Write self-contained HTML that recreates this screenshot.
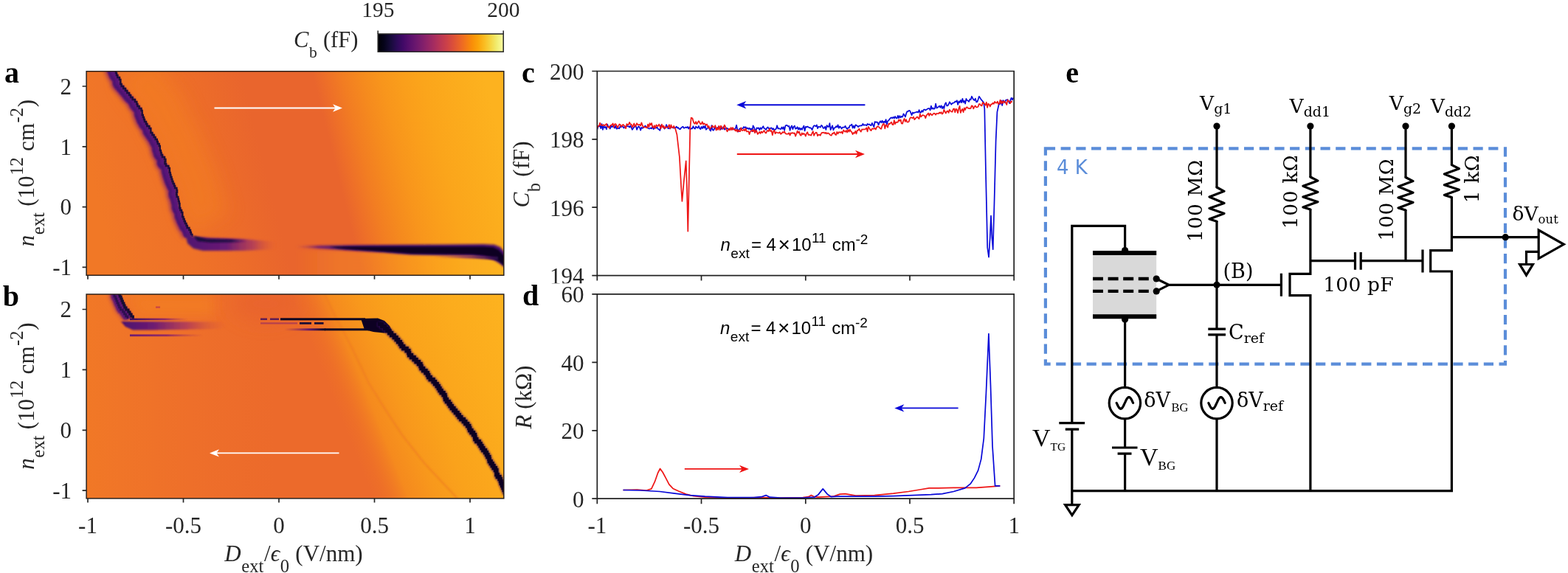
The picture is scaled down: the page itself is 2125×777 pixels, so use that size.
<!DOCTYPE html>
<html lang="en"><head><meta charset="utf-8"><title>Figure</title>
<style>
html,body{margin:0;padding:0;background:#fff;}
body{width:2125px;height:777px;overflow:hidden;}
svg{display:block;}
text{white-space:pre;}
</style></head>
<body>
<svg width="2125" height="777" viewBox="0 0 2125 777">
<defs>
<linearGradient id="cb" x1="0" x2="1" y1="0" y2="0"><stop offset="0.00" stop-color="#000003"/><stop offset="0.05" stop-color="#06041B"/><stop offset="0.10" stop-color="#160B39"/><stop offset="0.15" stop-color="#2B0A56"/><stop offset="0.20" stop-color="#410967"/><stop offset="0.25" stop-color="#570F6D"/><stop offset="0.30" stop-color="#6A176E"/><stop offset="0.35" stop-color="#7E1E6C"/><stop offset="0.40" stop-color="#932567"/><stop offset="0.45" stop-color="#A72D5F"/><stop offset="0.50" stop-color="#BB3754"/><stop offset="0.55" stop-color="#CC4148"/><stop offset="0.60" stop-color="#DC5039"/><stop offset="0.65" stop-color="#E9622A"/><stop offset="0.70" stop-color="#F37719"/><stop offset="0.75" stop-color="#F98E08"/><stop offset="0.80" stop-color="#FBA40A"/><stop offset="0.85" stop-color="#FABD23"/><stop offset="0.90" stop-color="#F5D745"/><stop offset="0.95" stop-color="#F1EE74"/><stop offset="1.00" stop-color="#FCFEA4"/></linearGradient>
<clipPath id="clipA"><rect x="117.1" y="96.7" width="565.6999999999999" height="276.6"/></clipPath>
<clipPath id="clipB"><rect x="117.1" y="399.0" width="565.6999999999999" height="276.9"/></clipPath>
<linearGradient id="gA" gradientUnits="userSpaceOnUse" x1="117" y1="210" x2="649.7" y2="76.8"><stop offset="0" stop-color="#F17826" stop-opacity="1"/><stop offset="0.07" stop-color="#F07528" stop-opacity="1"/><stop offset="0.2" stop-color="#EF7228" stop-opacity="1"/><stop offset="0.33" stop-color="#EC6B2A" stop-opacity="1"/><stop offset="0.42" stop-color="#E9652D" stop-opacity="1"/><stop offset="0.59" stop-color="#E9652D" stop-opacity="1"/><stop offset="0.62" stop-color="#EE6F28" stop-opacity="1"/><stop offset="0.66" stop-color="#F27D22" stop-opacity="1"/><stop offset="0.705" stop-color="#F58A1E" stop-opacity="1"/><stop offset="0.75" stop-color="#F8951C" stop-opacity="1"/><stop offset="0.8" stop-color="#FA9E1B" stop-opacity="1"/><stop offset="0.85" stop-color="#FBA51B" stop-opacity="1"/><stop offset="0.94" stop-color="#FCAD1D" stop-opacity="1"/><stop offset="1" stop-color="#FDB21F" stop-opacity="1"/></linearGradient>
<linearGradient id="gB" gradientUnits="userSpaceOnUse" x1="117.1" y1="0" x2="682.8" y2="0"><stop offset="0" stop-color="#F17826" stop-opacity="1"/><stop offset="0.08" stop-color="#F07528" stop-opacity="1"/><stop offset="0.25" stop-color="#EE6F2A" stop-opacity="1"/><stop offset="0.45" stop-color="#EC6A2B" stop-opacity="1"/><stop offset="1" stop-color="#EC6A2B" stop-opacity="1"/></linearGradient>
<linearGradient id="gBd" gradientUnits="userSpaceOnUse" x1="457.2" y1="554.2" x2="698.6" y2="457.6"><stop offset="0" stop-color="#F07524" stop-opacity="0"/><stop offset="0.05" stop-color="#F07524" stop-opacity="0.35"/><stop offset="0.173" stop-color="#F58A1E" stop-opacity="1"/><stop offset="0.31" stop-color="#F8981C" stop-opacity="1"/><stop offset="0.46" stop-color="#FAA21B" stop-opacity="1"/><stop offset="0.75" stop-color="#FCAC1D" stop-opacity="1"/><stop offset="1" stop-color="#FDB21F" stop-opacity="1"/></linearGradient>
<filter id="bl0_6" filterUnits="userSpaceOnUse" x="100" y="80" width="600" height="610"><feGaussianBlur stdDeviation="0.6"/></filter>
<filter id="bl1" filterUnits="userSpaceOnUse" x="100" y="80" width="600" height="610"><feGaussianBlur stdDeviation="1"/></filter>
<filter id="bl1_5" filterUnits="userSpaceOnUse" x="100" y="80" width="600" height="610"><feGaussianBlur stdDeviation="1.5"/></filter>
<filter id="bl2_5" filterUnits="userSpaceOnUse" x="100" y="80" width="600" height="610"><feGaussianBlur stdDeviation="2.5"/></filter>
<filter id="bl4" filterUnits="userSpaceOnUse" x="100" y="80" width="600" height="610"><feGaussianBlur stdDeviation="4"/></filter>
<filter id="bl8" filterUnits="userSpaceOnUse" x="100" y="80" width="600" height="610"><feGaussianBlur stdDeviation="8"/></filter>
<filter id="bl12" filterUnits="userSpaceOnUse" x="100" y="80" width="600" height="610"><feGaussianBlur stdDeviation="12"/></filter>
</defs>
<rect width="2125" height="777" fill="#fff"/>
<g clip-path="url(#clipA)">
<rect x="117.1" y="96.7" width="565.6999999999999" height="276.6" fill="url(#gA)"/>
<polyline points="187.5,93.0 188.9,96.0 198.5,117.0 211.0,130.5 222.7,146.0 230.4,167.2 243.0,186.5 249.7,205.8 261.3,230.0 270.0,255.0 275.5,280.6 286.0,300.0" fill="none" stroke="#F37E21" stroke-width="56" filter="url(#bl12)" opacity="0.6"/>
<polyline points="147.0,93.0 147.0,96.0 148.4,96.0 148.4,99.0 149.4,99.0 149.4,102.0 150.7,102.0 150.7,105.0 153.4,105.0 153.4,108.0 154.8,108.0 154.8,111.0 154.6,111.0 154.6,114.0 156.0,114.0 156.0,117.0 158.6,117.0 158.6,120.0 161.4,120.0 161.4,123.0 163.7,123.0 163.7,126.0 166.5,126.0 166.5,129.0 168.5,129.0 168.5,132.0 171.0,132.0 171.0,135.0 174.4,135.0 174.4,138.0 176.7,138.0 176.7,141.0 177.7,141.0 177.7,144.0 180.0,144.0 180.0,147.0 182.9,147.0 182.9,150.0 184.0,150.0 184.0,153.0 184.1,153.0 184.1,156.0 185.2,156.0 185.2,159.0 186.4,159.0 186.4,162.0 187.4,162.0 187.4,165.0 189.4,165.0 189.4,168.0 190.7,168.0 190.7,171.0 193.7,171.0 193.7,174.0 195.7,174.0 195.7,177.0 195.8,177.0 195.8,180.0 197.8,180.0 197.8,183.0 200.0,183.0 200.0,186.0 202.0,186.0 202.0,189.0 204.2,189.0 204.2,192.0 205.2,192.0 205.2,195.0 207.1,195.0 207.1,198.0 208.2,198.0 208.2,201.0 208.2,201.0 208.2,204.0 209.3,204.0 209.3,207.0 210.0,207.0 210.0,210.0 211.4,210.0 211.4,213.0 214.4,213.0 214.4,216.0 215.8,216.0 215.8,219.0 214.8,219.0 214.8,222.0 216.3,222.0 216.3,225.0 219.8,225.0 219.8,228.0 221.3,228.0 221.3,231.0 221.1,231.0 221.1,234.0 222.1,234.0 222.1,237.0 222.8,237.0 222.8,240.0 223.9,240.0 223.9,243.0 224.8,243.0 224.8,246.0 225.9,246.0 225.9,249.0 227.4,249.0 227.4,252.0 228.5,252.0 228.5,255.0 230.8,255.0 230.8,258.0 231.5,258.0 231.5,261.0 230.5,261.0 230.5,264.0 231.1,264.0 231.1,267.0 232.8,267.0 232.8,270.0 233.4,270.0 233.4,273.0 234.2,273.0 234.2,276.0 234.9,276.0 234.9,279.0 234.8,279.0 234.8,282.0 235.7,282.0 235.7,285.0 237.4,285.0 237.4,288.0 238.7,288.0 238.7,291.0 238.6,291.0 238.6,294.0 239.9,294.0 239.9,297.0 241.1,297.0 241.1,300.0 242.3,300.0 242.3,303.0 243.9,303.0 243.9,306.0 245.1,306.0 245.1,309.0 247.8,309.0 247.8,312.0 249.4,312.0 249.4,315.0 250.3,315.0 250.3,318.0 251.8,318.0 251.8,321.0" fill="none" stroke="#8E2A66" stroke-width="10" filter="url(#bl2_5)" opacity="0.85" stroke-linejoin="round"/>
<polyline points="150.0,93.0 150.0,96.0 151.4,96.0 151.4,99.0 152.4,99.0 152.4,102.0 153.7,102.0 153.7,105.0 156.4,105.0 156.4,108.0 157.8,108.0 157.8,111.0 157.6,111.0 157.6,114.0 159.0,114.0 159.0,117.0 161.6,117.0 161.6,120.0 164.4,120.0 164.4,123.0 166.7,123.0 166.7,126.0 169.5,126.0 169.5,129.0 171.5,129.0 171.5,132.0 174.0,132.0 174.0,135.0 177.4,135.0 177.4,138.0 179.7,138.0 179.7,141.0 180.7,141.0 180.7,144.0 183.0,144.0 183.0,147.0 185.9,147.0 185.9,150.0 187.0,150.0 187.0,153.0 187.1,153.0 187.1,156.0 188.2,156.0 188.2,159.0 189.4,159.0 189.4,162.0 190.4,162.0 190.4,165.0 192.4,165.0 192.4,168.0 193.7,168.0 193.7,171.0 196.7,171.0 196.7,174.0 198.7,174.0 198.7,177.0 198.8,177.0 198.8,180.0 200.8,180.0 200.8,183.0 203.0,183.0 203.0,186.0 205.0,186.0 205.0,189.0 207.2,189.0 207.2,192.0 208.2,192.0 208.2,195.0 210.1,195.0 210.1,198.0 211.2,198.0 211.2,201.0 211.2,201.0 211.2,204.0 212.3,204.0 212.3,207.0 213.0,207.0 213.0,210.0 214.4,210.0 214.4,213.0 217.4,213.0 217.4,216.0 218.8,216.0 218.8,219.0 217.8,219.0 217.8,222.0 219.3,222.0 219.3,225.0 222.8,225.0 222.8,228.0 224.3,228.0 224.3,231.0 224.1,231.0 224.1,234.0 225.1,234.0 225.1,237.0 225.8,237.0 225.8,240.0 226.9,240.0 226.9,243.0 227.8,243.0 227.8,246.0 228.9,246.0 228.9,249.0 230.4,249.0 230.4,252.0 231.5,252.0 231.5,255.0 233.8,255.0 233.8,258.0 234.5,258.0 234.5,261.0 233.5,261.0 233.5,264.0 234.1,264.0 234.1,267.0 235.8,267.0 235.8,270.0 236.4,270.0 236.4,273.0 237.2,273.0 237.2,276.0 237.9,276.0 237.9,279.0 237.8,279.0 237.8,282.0 238.7,282.0 238.7,285.0 240.4,285.0 240.4,288.0 241.7,288.0 241.7,291.0 241.6,291.0 241.6,294.0 242.9,294.0 242.9,297.0 244.1,297.0 244.1,300.0 245.3,300.0 245.3,303.0 246.9,303.0 246.9,306.0 248.1,306.0 248.1,309.0 250.8,309.0 250.8,312.0 252.4,312.0 252.4,315.0 253.3,315.0 253.3,318.0 254.8,318.0 254.8,321.0" fill="none" stroke="#5A1779" stroke-width="9" filter="url(#bl1)" stroke-linejoin="round"/>
<polyline points="146.5,93.0 146.5,96.0 147.9,96.0 147.9,99.0 148.9,99.0 148.9,102.0 150.2,102.0 150.2,105.0 152.9,105.0 152.9,108.0 154.3,108.0 154.3,111.0 154.1,111.0 154.1,114.0 155.5,114.0 155.5,117.0 158.1,117.0 158.1,120.0 160.9,120.0 160.9,123.0 163.2,123.0 163.2,126.0 166.0,126.0 166.0,129.0 168.0,129.0 168.0,132.0 170.5,132.0 170.5,135.0 173.9,135.0 173.9,138.0 176.2,138.0 176.2,141.0 177.2,141.0 177.2,144.0 179.5,144.0 179.5,147.0 182.4,147.0 182.4,150.0 183.5,150.0 183.5,153.0 183.6,153.0 183.6,156.0 184.7,156.0 184.7,159.0 185.9,159.0 185.9,162.0 186.9,162.0 186.9,165.0 188.9,165.0 188.9,168.0 190.2,168.0 190.2,171.0 193.2,171.0 193.2,174.0 195.2,174.0 195.2,177.0 195.3,177.0 195.3,180.0 197.3,180.0 197.3,183.0 199.5,183.0 199.5,186.0 201.5,186.0 201.5,189.0 203.7,189.0 203.7,192.0 204.7,192.0 204.7,195.0 206.6,195.0 206.6,198.0 207.7,198.0 207.7,201.0 207.7,201.0 207.7,204.0 208.8,204.0 208.8,207.0 209.5,207.0 209.5,210.0 210.9,210.0 210.9,213.0 213.9,213.0 213.9,216.0 215.3,216.0 215.3,219.0 214.3,219.0 214.3,222.0 215.8,222.0 215.8,225.0 219.3,225.0 219.3,228.0 220.8,228.0 220.8,231.0 220.6,231.0 220.6,234.0 221.6,234.0 221.6,237.0 222.3,237.0 222.3,240.0 223.4,240.0 223.4,243.0 224.3,243.0 224.3,246.0 225.4,246.0 225.4,249.0 226.9,249.0 226.9,252.0 228.0,252.0 228.0,255.0 230.3,255.0 230.3,258.0 231.0,258.0 231.0,261.0 230.0,261.0 230.0,264.0 230.6,264.0 230.6,267.0 232.3,267.0 232.3,270.0 232.9,270.0 232.9,273.0 233.7,273.0 233.7,276.0 234.4,276.0 234.4,279.0 234.3,279.0 234.3,282.0 235.2,282.0 235.2,285.0 236.9,285.0 236.9,288.0 238.2,288.0 238.2,291.0 238.1,291.0 238.1,294.0 239.4,294.0 239.4,297.0 240.6,297.0 240.6,300.0 241.8,300.0 241.8,303.0 243.4,303.0 243.4,306.0 244.6,306.0 244.6,309.0 247.3,309.0 247.3,312.0 248.9,312.0 248.9,315.0 249.8,315.0 249.8,318.0 251.3,318.0 251.3,321.0" fill="none" stroke="#3B0F66" stroke-width="2.2" filter="url(#bl1)" opacity="0.6"/>
<polyline points="155.6,93.0 155.6,96.0 157.0,96.0 157.0,99.0 158.0,99.0 158.0,102.0 159.3,102.0 159.3,105.0 162.0,105.0 162.0,108.0 163.4,108.0 163.4,111.0 163.2,111.0 163.2,114.0 164.6,114.0 164.6,117.0 167.2,117.0 167.2,120.0 170.0,120.0 170.0,123.0 172.3,123.0 172.3,126.0 175.1,126.0 175.1,129.0 177.1,129.0 177.1,132.0 179.6,132.0 179.6,135.0 183.0,135.0 183.0,138.0 185.3,138.0 185.3,141.0 186.3,141.0 186.3,144.0 188.6,144.0 188.6,147.0 191.5,147.0 191.5,150.0 192.6,150.0 192.6,153.0 192.7,153.0 192.7,156.0 193.8,156.0 193.8,159.0 195.0,159.0 195.0,162.0 196.0,162.0 196.0,165.0 198.0,165.0 198.0,168.0 199.3,168.0 199.3,171.0 202.3,171.0 202.3,174.0 204.3,174.0 204.3,177.0 204.4,177.0 204.4,180.0 206.4,180.0 206.4,183.0 208.6,183.0 208.6,186.0 210.6,186.0 210.6,189.0 212.8,189.0 212.8,192.0 213.8,192.0 213.8,195.0 215.7,195.0 215.7,198.0 216.8,198.0 216.8,201.0 216.8,201.0 216.8,204.0 217.9,204.0 217.9,207.0 218.6,207.0 218.6,210.0 220.0,210.0 220.0,213.0 223.0,213.0 223.0,216.0 224.4,216.0 224.4,219.0 223.4,219.0 223.4,222.0 224.9,222.0 224.9,225.0 228.4,225.0 228.4,228.0 229.9,228.0 229.9,231.0 229.7,231.0 229.7,234.0 230.7,234.0 230.7,237.0 231.4,237.0 231.4,240.0 232.5,240.0 232.5,243.0 233.4,243.0 233.4,246.0 234.5,246.0 234.5,249.0 236.0,249.0 236.0,252.0 237.1,252.0 237.1,255.0 239.4,255.0 239.4,258.0 240.1,258.0 240.1,261.0 239.1,261.0 239.1,264.0 239.7,264.0 239.7,267.0 241.4,267.0 241.4,270.0 242.0,270.0 242.0,273.0 242.8,273.0 242.8,276.0 243.5,276.0 243.5,279.0 243.4,279.0 243.4,282.0 244.3,282.0 244.3,285.0 246.0,285.0 246.0,288.0 247.3,288.0 247.3,291.0 247.2,291.0 247.2,294.0 248.5,294.0 248.5,297.0 249.7,297.0 249.7,300.0 250.9,300.0 250.9,303.0 252.5,303.0 252.5,306.0 253.7,306.0 253.7,309.0 256.4,309.0 256.4,312.0 258.0,312.0 258.0,315.0 258.9,315.0 258.9,318.0 260.4,318.0 260.4,321.0" fill="none" stroke="#1C0C3A" stroke-width="2.4" filter="url(#bl0_6)"/>
<linearGradient id="tailA" gradientUnits="userSpaceOnUse" x1="252" y1="0" x2="375" y2="0"><stop offset="0" stop-color="#4F1270"/><stop offset="0.45" stop-color="#6A1B74"/><stop offset="0.75" stop-color="#A83560" stop-opacity="0.75"/><stop offset="1" stop-color="#DD5539" stop-opacity="0"/></linearGradient>
<polygon points="251.0,316.0 262.0,320.5 285.0,322.5 330.0,324.0 375.0,328.0 375.0,338.0 330.0,340.0 275.0,340.0 262.0,337.0 254.0,330.0" fill="url(#tailA)" filter="url(#bl1_5)"/>
<linearGradient id="tailA2" gradientUnits="userSpaceOnUse" x1="262" y1="0" x2="335" y2="0"><stop offset="0" stop-color="#1B0B3B"/><stop offset="0.7" stop-color="#2A0C4A"/><stop offset="1" stop-color="#4F1270" stop-opacity="0"/></linearGradient>
<polygon points="262.0,320.0 280.0,324.0 335.0,325.0 335.0,328.5 285.0,329.0 268.0,327.0" fill="url(#tailA2)" filter="url(#bl1)"/>
<linearGradient id="lowA" gradientUnits="userSpaceOnUse" x1="400" y1="0" x2="683" y2="0"><stop offset="0" stop-color="#F8981C" stop-opacity="0"/><stop offset="0.2" stop-color="#F8981C" stop-opacity="0.3"/><stop offset="0.7" stop-color="#FDB422" stop-opacity="0.3"/><stop offset="1" stop-color="#FDB825" stop-opacity="0.5"/></linearGradient>
<rect x="400" y="340" width="290" height="40" fill="url(#lowA)" filter="url(#bl2_5)"/>
<linearGradient id="tailA3" gradientUnits="userSpaceOnUse" x1="400" y1="0" x2="470" y2="0"><stop offset="0" stop-color="#B03A5A" stop-opacity="0"/><stop offset="0.45" stop-color="#6E1C72" stop-opacity="0.9"/><stop offset="1" stop-color="#4A1070"/></linearGradient>
<polygon points="400.0,333.4 440.0,332.8 470.0,332.4 520.0,332.0 600.0,331.5 655.0,331.0 670.0,331.8 678.0,335.0 684.0,342.0 684.0,363.0 678.0,358.0 670.0,353.0 660.0,349.5 640.0,347.0 600.0,346.3 558.0,345.6 540.0,344.2 520.0,342.6 480.0,340.0 440.0,337.5 400.0,335.6" fill="url(#tailA3)" filter="url(#bl1_5)"/>
<polygon points="446.0,334.8 483.0,334.6 520.0,334.6 600.0,334.6 655.0,334.4 668.0,335.2 676.0,339.0 683.0,347.0 684.0,361.0 677.0,355.0 668.0,349.5 655.0,346.5 640.0,345.0 600.0,344.6 558.0,344.0 540.0,342.6 520.0,341.0 483.0,338.6 460.0,336.8" fill="#0C0622" filter="url(#bl1)"/>
<linearGradient id="tailA4" gradientUnits="userSpaceOnUse" x1="585" y1="0" x2="675" y2="0"><stop offset="0" stop-color="#C04050" stop-opacity="0"/><stop offset="0.5" stop-color="#7A1F6E" stop-opacity="0.75"/><stop offset="1" stop-color="#2A0C4A"/></linearGradient>
<polygon points="585.0,346.6 640.0,346.8 675.0,348.0 675.0,352.5 640.0,350.6 585.0,349.0" fill="url(#tailA4)" filter="url(#bl1)"/>
</g>
<g clip-path="url(#clipB)">
<rect x="117.1" y="399.0" width="565.6999999999999" height="276.9" fill="url(#gB)"/>
<ellipse cx="360" cy="412" rx="45" ry="24" fill="#E8622E" filter="url(#bl12)" opacity="0.7"/>
<rect x="117.1" y="399.0" width="565.6999999999999" height="276.9" fill="url(#gBd)"/>
<polygon points="172.0,399.0 290.0,399.0 290.0,429.0 190.0,429.0" fill="#F37E22" filter="url(#bl8)" opacity="0.8"/>
<polyline points="440.0,399.0 455.0,430.0 476.0,470.0 500.0,520.0 520.0,552.0 545.0,590.0 575.0,628.0 620.0,676.0" fill="none" stroke="#EE7A22" stroke-width="2.4" filter="url(#bl1)" opacity="0.6"/>
<polyline points="153.1,396.0 153.1,399.0 154.0,399.0 154.0,402.0 155.6,402.0 155.6,405.0 156.7,405.0 156.7,408.0 157.9,408.0 157.9,411.0 159.4,411.0 159.4,414.0 160.5,414.0 160.5,417.0 162.4,417.0 162.4,420.0 165.5,420.0 165.5,423.0 167.5,423.0 167.5,426.0 169.6,426.0 169.6,429.0 171.9,429.0 171.9,432.0" fill="none" stroke="#8E2A66" stroke-width="9" filter="url(#bl2_5)" opacity="0.8"/>
<polyline points="155.1,396.0 155.1,399.0 156.0,399.0 156.0,402.0 157.6,402.0 157.6,405.0 158.7,405.0 158.7,408.0 159.9,408.0 159.9,411.0 161.4,411.0 161.4,414.0 162.5,414.0 162.5,417.0 164.4,417.0 164.4,420.0 167.5,420.0 167.5,423.0 169.5,423.0 169.5,426.0 171.6,426.0 171.6,429.0 173.9,429.0 173.9,432.0" fill="none" stroke="#5A1673" stroke-width="9" filter="url(#bl1)"/>
<polyline points="161.5,396.0 161.5,399.0 162.4,399.0 162.4,402.0 164.0,402.0 164.0,405.0 165.1,405.0 165.1,408.0 166.3,408.0 166.3,411.0 167.8,411.0 167.8,414.0 168.9,414.0 168.9,417.0 170.8,417.0 170.8,420.0 173.9,420.0 173.9,423.0 175.9,423.0 175.9,426.0 178.0,426.0 178.0,429.0 180.3,429.0 180.3,432.0" fill="none" stroke="#160A32" stroke-width="3.2" filter="url(#bl0_6)"/>
<polyline points="154.1,396.0 154.1,399.0 155.0,399.0 155.0,402.0 156.6,402.0 156.6,405.0 157.7,405.0 157.7,408.0 158.9,408.0 158.9,411.0 160.4,411.0 160.4,414.0 161.5,414.0 161.5,417.0 163.4,417.0 163.4,420.0 166.5,420.0 166.5,423.0 168.5,423.0 168.5,426.0 170.6,426.0 170.6,429.0 172.9,429.0 172.9,432.0" fill="none" stroke="#25104a" stroke-width="2.6" filter="url(#bl0_6)" opacity="0.85"/>
<linearGradient id="fadeR" gradientUnits="userSpaceOnUse" x1="165" y1="0" x2="310" y2="0"><stop offset="0" stop-color="#4A1070"/><stop offset="0.3" stop-color="#6E1C72"/><stop offset="0.6" stop-color="#A83560" stop-opacity="0.8"/><stop offset="1" stop-color="#E05A35" stop-opacity="0"/></linearGradient>
<polygon points="164.0,436.0 300.0,436.5 310.0,441.0 300.0,446.0 205.0,447.5 180.0,447.5 170.0,443.0" fill="url(#fadeR)" filter="url(#bl1)"/>
<linearGradient id="fadeR2" gradientUnits="userSpaceOnUse" x1="176" y1="0" x2="275" y2="0"><stop offset="0" stop-color="#6E1C72"/><stop offset="0.5" stop-color="#8A2468" stop-opacity="0.9"/><stop offset="1" stop-color="#C04050" stop-opacity="0"/></linearGradient>
<rect x="176" y="453.4" width="100" height="2.8" fill="url(#fadeR2)" filter="url(#bl0_6)"/>
<linearGradient id="fadeR3" gradientUnits="userSpaceOnUse" x1="176" y1="0" x2="255" y2="0"><stop offset="0" stop-color="#3A0D60"/><stop offset="0.6" stop-color="#8A2468" stop-opacity="0.9"/><stop offset="1" stop-color="#C04050" stop-opacity="0"/></linearGradient>
<rect x="176" y="431.6" width="80" height="2.6" fill="url(#fadeR3)" filter="url(#bl0_6)"/>
<rect x="211" y="415.5" width="6" height="2.2" fill="#C94545" filter="url(#bl0_6)"/>
<linearGradient id="fadeL" gradientUnits="userSpaceOnUse" x1="352" y1="0" x2="375" y2="0"><stop offset="0" stop-color="#8A2468" stop-opacity="0"/><stop offset="1" stop-color="#0C0622"/></linearGradient>
<rect x="380" y="431.3" width="115" height="3" fill="#0C0622"/>
<linearGradient id="fadeL2" gradientUnits="userSpaceOnUse" x1="385" y1="0" x2="440" y2="0"><stop offset="0" stop-color="#8A2468" stop-opacity="0"/><stop offset="0.6" stop-color="#5A1570" stop-opacity="0.9"/><stop offset="1" stop-color="#0C0622"/></linearGradient>
<rect x="385" y="445.3" width="56" height="3" fill="url(#fadeL2)"/>
<rect x="440" y="445.3" width="60" height="3" fill="#0C0622"/>
<path d="M353 438.3h50" stroke="#8A2468" stroke-width="2.2" fill="none" opacity="0.55" filter="url(#bl0_6)"/>
<path d="M406 438.3h16M426 438.3h12.5" stroke="#1A0A36" stroke-width="2.8" fill="none" filter="url(#bl0_6)"/>
<path d="M353 432.8h9M366 432.8h12" stroke="#3A0D60" stroke-width="2.4" fill="none" opacity="0.8" filter="url(#bl0_6)"/>
<polygon points="489.0,432.0 512.0,431.5 521.0,435.0 528.0,442.0 532.0,450.0 520.0,451.5 506.0,450.0 494.0,447.0" fill="#0C0622" filter="url(#bl0_6)"/>
<polyline points="514.4,436.7 514.4,439.7 517.6,439.7 517.6,442.7 521.6,442.7 521.6,445.7 524.7,445.7 524.7,448.7 527.7,448.7 527.7,451.7 530.6,451.7 530.6,454.7 534.2,454.7 534.2,457.7 537.1,457.7 537.1,460.7 539.6,460.7 539.6,463.7 542.3,463.7 542.3,466.7 544.0,466.7 544.0,469.7 546.7,469.7 546.7,472.7 551.1,472.7 551.1,475.7 553.8,475.7 553.8,478.7 554.6,478.7 554.6,481.7 557.5,481.7 557.5,484.7 561.1,484.7 561.1,487.7 564.0,487.7 564.0,490.7 567.4,490.7 567.4,493.7 570.0,493.7 570.0,496.7 571.0,496.7 571.0,499.7 573.6,499.7 573.6,502.7 576.9,502.7 576.9,505.7 579.4,505.7 579.4,508.7 580.7,508.7 580.7,511.7 583.2,511.7 583.2,514.7 587.1,514.7 587.1,517.7 589.5,517.7 589.5,520.7 592.2,520.7 592.2,523.7 594.3,523.7 594.3,526.7 596.0,526.7 596.0,529.7 598.1,529.7 598.1,532.7 601.0,532.7 601.0,535.7 603.0,535.7 603.0,538.7 603.5,538.7 603.5,541.7 605.4,541.7 605.4,544.7 608.2,544.7 608.2,547.7 610.1,547.7 610.1,550.7 612.3,550.7 612.3,553.7 614.9,553.7 614.9,556.7 617.4,556.7 617.4,559.7 620.1,559.7 620.1,562.7 622.3,562.7 622.3,565.7 624.8,565.7 624.8,568.7 628.3,568.7 628.3,571.7 630.8,571.7 630.8,574.7 633.6,574.7 633.6,577.7 635.7,577.7 635.7,580.7 636.7,580.7 636.7,583.7 638.9,583.7 638.9,586.7 641.5,586.7 641.5,589.7 643.5,589.7 643.5,592.7 643.9,592.7 643.9,595.7 645.8,595.7 645.8,598.7 649.2,598.7 649.2,601.7 651.1,601.7 651.1,604.7 652.9,604.7 652.9,607.7 654.8,607.7 654.8,610.7 657.5,610.7 657.5,613.7 659.4,613.7 659.4,616.7 660.9,616.7 660.9,619.7 662.8,619.7 662.8,622.7 663.3,622.7 663.3,625.7 665.2,625.7 665.2,628.7 667.2,628.7 667.2,631.7 669.1,631.7 669.1,634.7 671.4,634.7 671.4,637.7 672.9,637.7 672.9,640.7 672.8,640.7 672.8,643.7 674.3,643.7 674.3,646.7 676.9,646.7 676.9,649.7 678.4,649.7 678.4,652.7 679.2,652.7 679.2,655.7 680.6,655.7 680.6,658.7 681.9,658.7 681.9,661.7 683.2,661.7 683.2,664.7 684.4,664.7 684.4,667.7 685.8,667.7 685.8,670.7" fill="none" stroke="#3A0D60" stroke-width="7" filter="url(#bl1)" opacity="0.7"/>
<polyline points="514.4,436.7 514.4,439.7 517.6,439.7 517.6,442.7 521.6,442.7 521.6,445.7 524.7,445.7 524.7,448.7 527.7,448.7 527.7,451.7 530.6,451.7 530.6,454.7 534.2,454.7 534.2,457.7 537.1,457.7 537.1,460.7 539.6,460.7 539.6,463.7 542.3,463.7 542.3,466.7 544.0,466.7 544.0,469.7 546.7,469.7 546.7,472.7 551.1,472.7 551.1,475.7 553.8,475.7 553.8,478.7 554.6,478.7 554.6,481.7 557.5,481.7 557.5,484.7 561.1,484.7 561.1,487.7 564.0,487.7 564.0,490.7 567.4,490.7 567.4,493.7 570.0,493.7 570.0,496.7 571.0,496.7 571.0,499.7 573.6,499.7 573.6,502.7 576.9,502.7 576.9,505.7 579.4,505.7 579.4,508.7 580.7,508.7 580.7,511.7 583.2,511.7 583.2,514.7 587.1,514.7 587.1,517.7 589.5,517.7 589.5,520.7 592.2,520.7 592.2,523.7 594.3,523.7 594.3,526.7 596.0,526.7 596.0,529.7 598.1,529.7 598.1,532.7 601.0,532.7 601.0,535.7 603.0,535.7 603.0,538.7 603.5,538.7 603.5,541.7 605.4,541.7 605.4,544.7 608.2,544.7 608.2,547.7 610.1,547.7 610.1,550.7 612.3,550.7 612.3,553.7 614.9,553.7 614.9,556.7 617.4,556.7 617.4,559.7 620.1,559.7 620.1,562.7 622.3,562.7 622.3,565.7 624.8,565.7 624.8,568.7 628.3,568.7 628.3,571.7 630.8,571.7 630.8,574.7 633.6,574.7 633.6,577.7 635.7,577.7 635.7,580.7 636.7,580.7 636.7,583.7 638.9,583.7 638.9,586.7 641.5,586.7 641.5,589.7 643.5,589.7 643.5,592.7 643.9,592.7 643.9,595.7 645.8,595.7 645.8,598.7 649.2,598.7 649.2,601.7 651.1,601.7 651.1,604.7 652.9,604.7 652.9,607.7 654.8,607.7 654.8,610.7 657.5,610.7 657.5,613.7 659.4,613.7 659.4,616.7 660.9,616.7 660.9,619.7 662.8,619.7 662.8,622.7 663.3,622.7 663.3,625.7 665.2,625.7 665.2,628.7 667.2,628.7 667.2,631.7 669.1,631.7 669.1,634.7 671.4,634.7 671.4,637.7 672.9,637.7 672.9,640.7 672.8,640.7 672.8,643.7 674.3,643.7 674.3,646.7 676.9,646.7 676.9,649.7 678.4,649.7 678.4,652.7 679.2,652.7 679.2,655.7 680.6,655.7 680.6,658.7 681.9,658.7 681.9,661.7 683.2,661.7 683.2,664.7 684.4,664.7 684.4,667.7 685.8,667.7 685.8,670.7" fill="none" stroke="#0C0622" stroke-width="5.2" filter="url(#bl0_6)"/>
</g>
<path d="M290.5 146.5H456.2" stroke="#fff" stroke-width="1.9" fill="none"/>
<path d="M464 146.5L451 141.3L454.64 146.5L451 151.7Z" fill="#fff"/>
<path d="M459.5 614.4H291.8" stroke="#fff" stroke-width="1.9" fill="none"/>
<path d="M284 614.4L297 609.1999999999999L293.36 614.4L297 619.6Z" fill="#fff"/>
<rect x="117.1" y="96.7" width="565.6999999999999" height="276.6" fill="none" stroke="#241c18" stroke-width="1.45"/>
<rect x="117.1" y="399.0" width="565.6999999999999" height="276.9" fill="none" stroke="#241c18" stroke-width="1.45"/>
<path d="M119 373.3v5.5M119 675.9v5.5M248.5 373.3v5.5M248.5 675.9v5.5M378 373.3v5.5M378 675.9v5.5M507.5 373.3v5.5M507.5 675.9v5.5M637 373.3v5.5M637 675.9v5.5M117.1 117h-5.5M117.1 198.8h-5.5M117.1 280.6h-5.5M117.1 362.4h-5.5M117.1 419.5h-5.5M117.1 501.4h-5.5M117.1 583.3h-5.5M117.1 665.2h-5.5" stroke="#262626" stroke-width="1.7" fill="none"/>
<g font-family='"Liberation Serif", "DejaVu Serif", serif' font-size="31" fill="#262626">
<text x="119" y="723.4" text-anchor="middle">-1</text>
<text x="248.5" y="723.4" text-anchor="middle">-0.5</text>
<text x="378" y="723.4" text-anchor="middle">0</text>
<text x="507.5" y="723.4" text-anchor="middle">0.5</text>
<text x="637" y="723.4" text-anchor="middle">1</text>
<text x="97" y="127.8" text-anchor="end">2</text>
<text x="97" y="209.6" text-anchor="end">1</text>
<text x="97" y="291.4" text-anchor="end">0</text>
<text x="97" y="373.2" text-anchor="end">-1</text>
<text x="97" y="430.3" text-anchor="end">2</text>
<text x="97" y="512.2" text-anchor="end">1</text>
<text x="97" y="594.1" text-anchor="end">0</text>
<text x="97" y="676.0" text-anchor="end">-1</text>
<text x="512.3" y="23.4" text-anchor="middle" font-size="29.4">195</text>
<text x="682.3" y="23.4" text-anchor="middle" font-size="29.4">200</text>
<text x="398" y="63.5"><tspan font-style="italic" font-size="30.5">C</tspan><tspan dy="14.6" dx="0.6" font-size="21.5">b</tspan><tspan dy="-14.6" dx="0.6" font-size="30.5"> (fF)</tspan></text>
<text x="398" y="761.3" text-anchor="middle"><tspan font-style="italic" font-size="31">D</tspan><tspan dy="14.3" dx="0.6" font-size="24.6">ext</tspan><tspan dy="-14.3" dx="0.6" font-size="31">/</tspan><tspan font-style="italic" font-size="31">ϵ</tspan><tspan dy="14.3" dx="0.6" font-size="24.6">0</tspan><tspan dy="-14.3" dx="0.6" font-size="31"> (V/nm)</tspan></text>
<text transform="translate(45.6 234.6) rotate(-90)" text-anchor="middle"><tspan font-style="italic" font-size="31">n</tspan><tspan dy="14.3" dx="0.6" font-size="24.6">ext</tspan><tspan dy="-14.3" dx="0.6" font-size="31"> (10</tspan><tspan dy="-15" dx="0.6" font-size="24.6">12</tspan><tspan dy="15" dx="0.6" font-size="31"> cm</tspan><tspan dy="-15" dx="0.6" font-size="24.6">-2</tspan><tspan dy="15" dx="0.6" font-size="31">)</tspan></text>
<text transform="translate(45.6 537.1) rotate(-90)" text-anchor="middle"><tspan font-style="italic" font-size="31">n</tspan><tspan dy="14.3" dx="0.6" font-size="24.6">ext</tspan><tspan dy="-14.3" dx="0.6" font-size="31"> (10</tspan><tspan dy="-15" dx="0.6" font-size="24.6">12</tspan><tspan dy="15" dx="0.6" font-size="31"> cm</tspan><tspan dy="-15" dx="0.6" font-size="24.6">-2</tspan><tspan dy="15" dx="0.6" font-size="31">)</tspan></text>
</g>
<g font-family='"Liberation Serif", "DejaVu Serif", serif' font-size="40" font-weight="bold" fill="#000">
<text x="6" y="111.5">a</text>
<text x="3.8" y="415.3">b</text>
<text x="707" y="111.5">c</text>
<text x="708" y="414">d</text>
<text x="1444.3" y="112.2">e</text>
</g>
<rect x="512.2" y="46" width="170" height="24.2" fill="url(#cb)" stroke="#262626" stroke-width="1.5"/>
<path d="M512.2 46v-4.6M682.2 46v-4.6" stroke="#262626" stroke-width="1.5"/>
<clipPath id="clipC"><rect x="809.3" y="96.5" width="564.9000000000001" height="277.1"/></clipPath>
<g clip-path="url(#clipC)">
<path d="M809.4 175.5L810.6 171.3L811.9 171.4L813.1 170.4L814.4 174.1L815.6 168.1L816.9 175.8L818.1 171.0L819.4 173.1L820.6 172.0L821.9 175.3L823.1 168.6L824.4 171.9L825.6 171.8L826.9 174.6L828.1 170.4L829.4 172.2L830.6 170.8L831.9 172.6L833.1 173.6L834.4 170.4L835.6 174.7L836.9 174.2L838.1 173.5L839.4 174.3L840.6 171.2L841.9 172.3L843.1 170.8L844.4 172.1L845.6 173.6L846.9 171.3L848.1 171.8L849.4 171.3L850.6 171.0L851.9 171.3L853.1 172.6L854.4 170.5L855.6 173.1L856.9 175.8L858.1 174.0L859.4 172.3L860.6 170.9L861.9 171.2L863.1 175.9L864.4 172.7L865.6 171.4L866.9 173.0L868.1 176.6L869.4 172.9L870.6 173.8L871.9 173.2L873.1 172.0L874.4 170.5L875.6 172.0L876.9 172.3L878.1 173.8L879.4 174.3L880.6 174.5L881.9 173.3L883.1 174.4L884.4 171.3L885.6 175.1L886.9 173.7L888.1 172.2L889.4 173.7L890.6 172.6L891.9 174.9L893.1 175.6L894.4 176.9L895.6 170.1L896.9 170.0L898.1 171.8L899.4 173.1L900.6 174.5L901.9 173.4L903.1 169.0L904.4 172.2L905.6 174.4L906.9 173.3L908.1 174.3L909.4 172.4L910.6 172.4L911.9 173.2L913.1 173.6L914.4 173.2L915.6 173.1L916.9 171.6L918.1 173.6L919.4 173.1L920.6 175.0L921.9 175.2L923.1 173.3L924.4 172.3L925.6 171.8L926.9 173.8L928.1 173.2L929.4 172.4L930.6 173.2L931.9 171.9L933.1 174.5L934.4 172.3L935.6 175.5L936.9 174.0L938.1 174.4L939.4 171.2L940.6 173.6L941.9 174.7L943.1 171.5L944.4 172.9L945.6 173.5L946.9 170.8L948.1 174.0L949.4 175.1L950.6 171.9L951.9 174.2L953.1 171.1L954.4 173.5L955.6 170.5L956.9 175.8L958.1 174.4L959.4 173.6L960.6 172.2L961.9 176.1L963.1 177.5L964.4 170.2L965.6 176.1L966.9 176.9L968.1 174.5L969.4 171.6L970.6 175.5L971.9 173.5L973.1 172.8L974.4 171.6L975.6 175.0L976.9 175.5L978.1 172.8L979.4 175.0L980.6 171.8L981.9 175.6L983.1 174.2L984.4 173.7L985.6 173.9L986.9 175.8L988.1 175.6L989.4 175.2L990.6 174.4L991.9 174.3L993.1 175.4L994.4 174.7L995.6 175.6L996.9 173.7L998.1 169.7L999.4 176.3L1000.6 178.5L1001.9 175.1L1003.1 174.1L1004.4 174.0L1005.6 174.0L1006.9 174.2L1008.1 172.0L1009.4 173.2L1010.6 172.2L1011.9 174.6L1013.1 173.5L1014.4 175.0L1015.6 173.7L1016.9 175.9L1018.1 174.4L1019.4 178.1L1020.6 170.3L1021.9 172.7L1023.1 175.6L1024.4 178.6L1025.6 173.3L1026.9 173.9L1028.1 173.3L1029.4 176.3L1030.6 173.2L1031.9 175.0L1033.1 173.1L1034.4 171.2L1035.6 174.2L1036.9 174.5L1038.1 176.0L1039.4 173.3L1040.6 172.3L1041.9 174.6L1043.1 173.9L1044.4 174.0L1045.6 173.3L1046.9 175.6L1048.1 174.1L1049.4 177.0L1050.6 175.5L1051.9 174.6L1053.1 170.2L1054.4 174.5L1055.6 174.1L1056.9 174.8L1058.1 175.2L1059.4 172.5L1060.6 174.8L1061.9 172.2L1063.1 176.9L1064.4 170.7L1065.6 169.8L1066.9 170.0L1068.1 171.5L1069.4 171.0L1070.6 176.8L1071.9 172.5L1073.1 170.5L1074.4 175.2L1075.6 171.9L1076.9 170.7L1078.1 174.7L1079.4 174.2L1080.6 172.2L1081.9 175.7L1083.1 173.2L1084.4 176.0L1085.6 173.9L1086.9 175.9L1088.1 173.1L1089.4 170.6L1090.6 177.5L1091.9 171.8L1093.1 172.5L1094.4 171.5L1095.6 172.4L1096.9 173.3L1098.1 173.2L1099.4 174.0L1100.6 176.1L1101.9 172.5L1103.1 170.4L1104.4 170.4L1105.6 171.4L1106.9 169.5L1108.1 174.2L1109.4 171.7L1110.6 172.0L1111.9 172.6L1113.1 169.9L1114.4 170.9L1115.6 173.8L1116.9 173.7L1118.1 171.7L1119.4 175.9L1120.6 170.0L1121.9 171.8L1123.1 172.0L1124.4 167.1L1125.6 176.1L1126.9 173.1L1128.1 170.4L1129.4 176.3L1130.6 173.5L1131.9 173.1L1133.1 171.2L1134.4 172.5L1135.6 169.4L1136.9 173.8L1138.1 171.5L1139.4 172.5L1140.6 174.5L1141.9 172.7L1143.1 172.7L1144.4 172.7L1145.6 170.8L1146.9 173.7L1148.1 174.9L1149.4 173.3L1150.6 173.4L1151.9 170.0L1153.1 169.8L1154.4 168.6L1155.6 173.6L1156.9 170.6L1158.1 173.7L1159.4 169.4L1160.6 169.9L1161.9 170.8L1163.1 172.2L1164.4 170.5L1165.6 170.6L1166.9 170.2L1168.1 170.3L1169.4 167.8L1170.6 169.9L1171.9 169.3L1173.1 169.4L1174.4 170.3L1175.6 168.0L1176.9 169.0L1178.1 168.4L1179.4 169.7L1180.6 170.2L1181.9 166.8L1183.1 169.6L1184.4 172.1L1185.6 165.0L1186.9 165.9L1188.1 165.4L1189.4 166.1L1190.6 169.4L1191.9 165.9L1193.1 164.2L1194.4 166.3L1195.6 163.6L1196.9 166.5L1198.1 164.6L1199.4 166.3L1200.6 162.0L1201.9 168.6L1203.1 164.1L1204.4 163.3L1205.6 161.6L1206.9 160.0L1208.1 159.3L1209.4 160.3L1210.6 158.7L1211.9 160.4L1213.1 157.9L1214.4 160.2L1215.6 160.5L1216.9 156.9L1218.1 160.2L1219.4 157.1L1220.6 159.4L1221.9 157.7L1223.1 158.7L1224.4 154.4L1225.6 155.8L1226.9 158.5L1228.1 154.2L1229.4 151.2L1230.6 151.1L1231.9 149.8L1233.1 150.2L1234.4 153.2L1235.6 156.1L1236.9 152.5L1238.1 153.7L1239.4 152.6L1240.6 152.5L1241.9 151.9L1243.1 151.6L1244.4 152.5L1245.6 149.1L1246.9 152.9L1248.1 152.5L1249.4 150.0L1250.6 151.7L1251.9 148.5L1253.1 148.5L1254.4 149.5L1255.6 148.6L1256.9 147.8L1258.1 147.1L1259.4 147.0L1260.6 149.5L1261.9 143.7L1263.1 147.8L1264.4 146.3L1265.6 147.9L1266.9 147.1L1268.1 140.6L1269.4 146.6L1270.6 145.8L1271.9 144.9L1273.1 143.7L1274.4 145.9L1275.6 143.2L1276.9 147.1L1278.1 144.4L1279.4 147.1L1280.6 141.2L1281.9 139.1L1283.1 143.5L1284.4 143.4L1285.6 141.5L1286.9 138.2L1288.1 140.0L1289.4 141.7L1290.6 139.9L1291.9 139.7L1293.1 139.3L1294.4 137.5L1295.6 138.1L1296.9 136.1L1298.1 141.9L1299.4 137.4L1300.6 139.0L1301.9 135.9L1303.1 139.1L1304.4 133.8L1305.6 138.8L1306.9 136.7L1308.1 140.6L1309.4 133.8L1310.6 136.2L1311.9 136.5L1313.1 137.9L1314.4 134.5L1315.6 135.2L1316.9 130.7L1318.1 133.0L1319.4 135.2L1320.6 136.2L1321.9 133.6L1323.1 138.4L1324.4 138.1L1325.6 135.0L1326.9 130.8L1328.1 132.4L1329.4 134.6L1333.0 138.7L1334.3 147.5L1336.0 235.0L1338.2 335.6L1340.0 348.7L1341.7 322.5L1343.0 292.7L1344.4 322.5L1345.7 338.2L1347.4 278.7L1349.6 191.2L1351.4 151.9L1353.5 142.2L1354.4 140.6L1355.7 140.8L1356.9 136.3L1358.2 143.0L1359.4 136.0L1360.7 137.3L1361.9 139.3L1363.2 135.5L1364.4 135.4L1365.7 135.1L1366.9 137.4L1368.2 140.2L1369.4 135.4L1370.7 132.7L1371.9 135.4L1373.2 132.7" fill="none" stroke="#0808D8" stroke-width="1.7" stroke-linejoin="round" />
<path d="M809.4 173.6L810.6 171.1L811.9 170.4L813.1 166.7L814.4 169.7L815.6 169.6L816.9 170.1L818.1 169.1L819.4 170.2L820.6 169.4L821.9 167.8L823.1 172.0L824.4 172.0L825.6 173.6L826.9 170.4L828.1 169.6L829.4 169.3L830.6 167.4L831.9 172.2L833.1 168.3L834.4 168.1L835.6 170.0L836.9 173.2L838.1 170.8L839.4 168.4L840.6 169.0L841.9 171.6L843.1 170.1L844.4 169.0L845.6 170.0L846.9 171.8L848.1 174.2L849.4 168.1L850.6 169.3L851.9 168.9L853.1 165.9L854.4 168.7L855.6 168.5L856.9 172.6L858.1 170.2L859.4 167.4L860.6 171.7L861.9 169.8L863.1 167.2L864.4 169.4L865.6 169.4L866.9 168.9L868.1 170.6L869.4 166.3L870.6 170.0L871.9 172.5L873.1 172.2L874.4 172.7L875.6 172.7L876.9 173.4L878.1 168.5L879.4 172.2L880.6 167.1L881.9 169.5L883.1 167.0L884.4 172.6L885.6 173.2L886.9 170.2L888.1 174.0L889.4 169.4L890.6 170.9L891.9 170.9L893.1 168.6L894.4 171.5L895.6 174.4L896.9 168.7L898.1 172.5L899.4 170.6L900.6 174.4L901.9 172.1L903.1 172.6L904.4 172.7L905.6 172.1L906.9 169.1L908.1 174.5L909.4 169.4L910.6 172.6L911.9 173.4L913.1 170.8L915.2 174.6L917.4 182.5L920.9 213.1L923.1 252.5L924.4 273.0L926.6 248.1L929.7 218.4L931.0 256.9L932.3 313.7L934.0 235.0L935.3 173.7L936.7 159.7L938.4 160.2L939.7 165.0L940.6 166.8L941.8 167.8L943.1 165.0L944.3 168.3L945.6 166.2L946.8 164.1L948.1 165.9L949.3 168.4L950.6 167.9L951.8 165.2L953.1 168.6L954.3 167.4L955.6 168.4L956.8 169.6L958.1 168.5L959.3 172.7L960.6 170.9L961.8 175.0L963.1 173.5L964.3 172.3L965.6 170.4L966.8 172.4L968.1 172.6L969.3 170.1L970.6 176.6L971.8 173.3L973.1 175.9L974.3 170.8L975.6 176.2L976.8 170.6L978.1 172.2L979.3 174.6L980.6 173.9L981.8 169.5L983.1 172.0L984.3 175.9L985.6 178.4L986.8 176.4L988.1 174.3L989.3 176.5L990.6 173.0L991.8 176.3L993.1 173.0L994.3 175.7L995.6 175.7L996.8 177.6L998.1 175.7L999.3 178.7L1000.6 176.2L1001.8 178.2L1003.1 178.2L1004.3 173.3L1005.6 176.9L1006.8 177.0L1008.1 175.5L1009.3 177.4L1010.6 174.4L1011.8 178.3L1013.1 178.3L1014.3 178.0L1015.6 182.2L1016.8 178.2L1018.1 177.7L1019.3 176.3L1020.6 178.3L1021.8 176.0L1023.1 180.3L1024.3 176.8L1025.6 178.4L1026.8 181.9L1028.1 180.4L1029.3 178.8L1030.6 181.0L1031.8 178.3L1033.1 180.0L1034.3 178.6L1035.6 176.9L1036.8 179.6L1038.1 180.6L1039.3 178.2L1040.6 176.9L1041.8 178.0L1043.1 174.6L1044.3 178.0L1045.6 177.2L1046.8 183.2L1048.1 178.3L1049.3 176.6L1050.6 181.2L1051.8 179.3L1053.1 179.8L1054.3 180.2L1055.6 180.3L1056.8 179.2L1058.1 181.8L1059.3 181.0L1060.6 179.1L1061.8 179.8L1063.1 178.4L1064.3 180.8L1065.6 181.7L1066.8 181.6L1068.1 181.6L1069.3 180.2L1070.6 183.5L1071.8 180.2L1073.1 180.7L1074.3 180.0L1075.6 180.9L1076.8 180.3L1078.1 184.7L1079.3 181.7L1080.6 177.7L1081.8 180.2L1083.1 178.4L1084.3 182.8L1085.6 183.8L1086.8 180.4L1088.1 182.4L1089.3 180.9L1090.6 182.2L1091.8 184.7L1093.1 180.8L1094.3 179.2L1095.6 183.0L1096.8 182.6L1098.1 183.0L1099.3 183.7L1100.6 180.5L1101.8 178.1L1103.1 183.9L1104.3 181.2L1105.6 179.7L1106.8 179.9L1108.1 184.3L1109.3 182.5L1110.6 182.8L1111.8 183.7L1113.1 180.7L1114.3 179.7L1115.6 180.1L1116.8 179.5L1118.1 181.0L1119.3 179.7L1120.6 181.4L1121.8 180.3L1123.1 180.9L1124.3 182.2L1125.6 183.5L1126.8 183.7L1128.1 180.8L1129.3 180.9L1130.6 179.4L1131.8 182.2L1133.1 183.1L1134.3 178.9L1135.6 181.4L1136.8 179.2L1138.1 179.4L1139.3 179.9L1140.6 178.7L1141.8 181.1L1143.1 176.4L1144.3 177.8L1145.6 178.8L1146.8 176.9L1148.1 179.5L1149.3 175.8L1150.6 178.6L1151.8 175.6L1153.1 178.0L1154.3 179.1L1155.6 182.1L1156.8 179.9L1158.1 180.8L1159.3 177.7L1160.6 181.4L1161.8 176.8L1163.1 176.6L1164.3 174.6L1165.6 177.3L1166.8 178.7L1168.1 175.4L1169.3 175.7L1170.6 175.4L1171.8 175.5L1173.1 174.9L1174.3 173.3L1175.6 178.4L1176.8 171.9L1178.1 173.7L1179.3 176.0L1180.6 177.1L1181.8 174.7L1183.1 174.4L1184.3 174.7L1185.6 173.8L1186.8 175.6L1188.1 172.6L1189.3 171.3L1190.6 171.9L1191.8 172.7L1193.1 174.4L1194.3 174.8L1195.6 170.6L1196.8 168.2L1198.1 168.0L1199.3 174.3L1200.6 169.2L1201.8 170.4L1203.1 172.8L1204.3 167.6L1205.6 168.1L1206.8 167.0L1208.1 165.7L1209.3 168.9L1210.6 169.1L1211.8 163.1L1213.1 168.2L1214.3 165.5L1215.6 165.9L1216.8 165.6L1218.1 162.4L1219.3 163.9L1220.6 162.3L1221.8 167.5L1223.1 167.7L1224.3 163.5L1225.6 160.8L1226.8 164.9L1228.1 162.1L1229.3 165.5L1230.6 165.6L1231.8 164.8L1233.1 160.6L1234.3 159.2L1235.6 159.5L1236.8 160.3L1238.1 158.5L1239.3 162.2L1240.6 160.9L1241.8 159.3L1243.1 158.3L1244.3 160.0L1245.6 161.1L1246.8 154.6L1248.1 158.4L1249.3 157.1L1250.6 156.0L1251.8 156.5L1253.1 157.1L1254.3 160.1L1255.6 156.4L1256.8 155.2L1258.1 153.4L1259.3 157.0L1260.6 153.9L1261.8 154.9L1263.1 156.3L1264.3 154.8L1265.6 153.7L1266.8 153.9L1268.1 155.7L1269.3 153.8L1270.6 154.0L1271.8 154.2L1273.1 152.5L1274.3 153.6L1275.6 152.2L1276.8 154.6L1278.1 153.2L1279.3 148.8L1280.6 151.4L1281.8 153.7L1283.1 151.0L1284.3 150.4L1285.6 152.9L1286.8 148.7L1288.1 150.6L1289.3 151.4L1290.6 151.7L1291.8 147.9L1293.1 147.3L1294.3 152.2L1295.6 147.6L1296.8 148.7L1298.1 153.2L1299.3 147.4L1300.6 143.8L1301.8 153.0L1303.1 149.4L1304.3 147.8L1305.6 152.1L1306.8 146.4L1308.1 149.0L1309.3 146.0L1310.6 145.2L1311.8 146.7L1313.1 146.9L1314.3 147.3L1315.6 146.9L1316.8 143.4L1318.1 143.9L1319.3 147.5L1320.6 144.6L1321.8 143.4L1323.1 145.5L1324.3 145.3L1325.6 144.8L1326.8 141.0L1328.1 141.1L1329.3 143.0L1330.6 143.5L1331.8 138.9L1333.1 140.2L1334.3 140.5L1335.6 142.8L1336.8 138.7L1338.1 145.8L1339.3 140.7L1340.6 141.6L1341.8 144.5L1343.1 141.4L1344.3 141.5L1345.6 139.6L1346.8 140.8L1348.1 137.8L1349.3 139.5L1350.6 139.6L1351.8 137.6L1353.1 141.2L1354.3 140.1L1355.6 135.6L1356.8 140.5L1358.1 137.1L1359.3 139.9L1360.6 137.2L1361.8 137.9L1363.1 139.3L1364.3 142.0L1365.6 135.4L1366.8 137.5L1368.1 137.4L1369.3 140.0L1370.6 137.3L1371.8 138.5" fill="none" stroke="#EE1515" stroke-width="1.7" stroke-linejoin="round" />
</g>
<path d="M844.5 664.5L863.4 664.0L876.2 665.0L882.8 662.9L887.4 653.2L891.5 641.5L894.6 635.4L898.2 640.5L902.8 649.2L906.8 656.8L912.0 662.4L919.6 666.0L929.8 670.1L940.0 672.6L955.4 674.2L986.0 675.2L1026.9 674.7L1057.5 675.2L1088.2 674.7L1095.8 673.7L1099.4 671.6L1103.5 673.7L1108.6 674.2L1129.0 673.2L1138.2 670.1L1145.4 669.6L1159.7 672.1L1185.2 671.6L1210.7 669.1L1231.2 666.5L1246.5 664.0L1259.2 661.9L1272.0 661.9L1292.4 661.4L1323.1 661.4L1343.5 659.9L1355.3 658.9" fill="none" stroke="#EE1515" stroke-width="1.7" stroke-linejoin="round" />
<path d="M844.5 664.5L868.5 665.0L894.1 666.5L914.5 669.1L934.9 671.6L955.4 673.2L986.0 674.7L1021.8 674.7L1032.0 673.7L1038.1 671.6L1043.2 674.2L1057.5 675.2L1088.2 675.2L1103.5 674.2L1108.6 671.1L1115.2 662.9L1121.3 670.1L1126.5 673.7L1134.1 673.2L1159.7 673.2L1185.2 673.2L1210.7 672.6L1236.3 671.6L1261.8 670.6L1277.1 669.6L1292.4 666.5L1307.8 661.9L1315.4 655.8L1320.5 648.1L1325.6 637.9L1329.7 622.6L1333.3 594.5L1336.4 533.2L1339.9 452.5L1342.5 523.0L1345.0 604.7L1348.6 658.9L1355.3 658.9" fill="none" stroke="#0808D8" stroke-width="1.7" stroke-linejoin="round" />
<path d="M809.3 96.5H1374.2V373.6H809.3Z M809.3 398.9H1374.2V676.2H809.3Z" fill="none" stroke="#222" stroke-width="1.7"/>
<path d="M809.3 373.6v7M809.3 676.2v7M950.5 373.6v7M950.5 676.2v7M1091.8 373.6v7M1091.8 676.2v7M1233.0 373.6v7M1233.0 676.2v7M1374.2 373.6v7M1374.2 676.2v7M809.3 96.5h-7M809.3 188.9h-7M809.3 281.2h-7M809.3 373.6h-7M809.3 398.9h-7M809.3 491.3h-7M809.3 583.8h-7M809.3 676.2h-7" stroke="#222" stroke-width="1.7" fill="none"/>
<g font-family='"Liberation Serif", "DejaVu Serif", serif' font-size="31" fill="#262626">
<text x="809.3" y="723.4" text-anchor="middle">-1</text>
<text x="950.5" y="723.4" text-anchor="middle">-0.5</text>
<text x="1091.8" y="723.4" text-anchor="middle">0</text>
<text x="1233.0" y="723.4" text-anchor="middle">0.5</text>
<text x="1374.2" y="723.4" text-anchor="middle">1</text>
<text x="791.5" y="107.9" text-anchor="end">200</text>
<text x="791.5" y="200.3" text-anchor="end">198</text>
<text x="791.5" y="292.6" text-anchor="end">196</text>
<text x="791.5" y="385.0" text-anchor="end">194</text>
<rect x="730" y="384.3" width="72" height="5" fill="#fff"/>
<text x="791.5" y="410.3" text-anchor="end">60</text>
<text x="791.5" y="502.7" text-anchor="end">40</text>
<text x="791.5" y="595.2" text-anchor="end">20</text>
<text x="791.5" y="687.6" text-anchor="end">0</text>
<text x="1089.5" y="761.3" text-anchor="middle"><tspan font-style="italic" font-size="31">D</tspan><tspan dy="14.3" dx="0.6" font-size="24.6">ext</tspan><tspan dy="-14.3" dx="0.6" font-size="31">/</tspan><tspan font-style="italic" font-size="31">ϵ</tspan><tspan dy="14.3" dx="0.6" font-size="24.6">0</tspan><tspan dy="-14.3" dx="0.6" font-size="31"> (V/nm)</tspan></text>
<text transform="translate(717.2 236.5) rotate(-90)" text-anchor="middle"><tspan font-style="italic" font-size="31">C</tspan><tspan dy="14.3" dx="0.6" font-size="24.6">b</tspan><tspan dy="-14.3" dx="0.6" font-size="31"> (fF)</tspan></text>
<text transform="translate(720.2 538.5) rotate(-90)" text-anchor="middle"><tspan font-style="italic" font-size="31">R</tspan><tspan font-size="31"> (kΩ)</tspan></text>
</g>
<text x="976.5" y="340" font-family='"Liberation Sans", "DejaVu Sans", sans-serif' font-size="24" fill="#000"><tspan font-style="italic">n</tspan><tspan font-size="19" dy="10.3" dx="0.5">ext</tspan><tspan dy="-10.3" dx="2.2">= 4</tspan><tspan dx="2.5" font-size="28" dy="1">×</tspan><tspan dx="2.2" dy="-1">10</tspan><tspan font-size="19" dy="-11.5" dx="0.2">11</tspan><tspan dy="11.5" dx="1.4"> cm</tspan><tspan font-size="19" dy="-9" dx="-0.3">-2</tspan></text>
<text x="976" y="453" font-family='"Liberation Sans", "DejaVu Sans", sans-serif' font-size="24" fill="#000"><tspan font-style="italic">n</tspan><tspan font-size="19" dy="10.3" dx="0.5">ext</tspan><tspan dy="-10.3" dx="2.2">= 4</tspan><tspan dx="2.5" font-size="28" dy="1">×</tspan><tspan dx="2.2" dy="-1">10</tspan><tspan font-size="19" dy="-11.5" dx="0.2">11</tspan><tspan dy="11.5" dx="1.4"> cm</tspan><tspan font-size="19" dy="-9" dx="-0.3">-2</tspan></text>
<path d="M1172.4 142.2H1006.0999999999999" stroke="#0808D8" stroke-width="1.9" fill="none"/>
<path d="M998.3 142.2L1011.3 137.0L1007.66 142.2L1011.3 147.39999999999998Z" fill="#0808D8"/>
<path d="M998.8 209H1164.2" stroke="#EE1515" stroke-width="1.9" fill="none"/>
<path d="M1172 209L1159 203.8L1162.64 209L1159 214.2Z" fill="#EE1515"/>
<path d="M1298.6 553.4H1220.1" stroke="#0808D8" stroke-width="1.9" fill="none"/>
<path d="M1212.3 553.4L1225.3 548.1999999999999L1221.6599999999999 553.4L1225.3 558.6Z" fill="#0808D8"/>
<path d="M927.8 635.9H1007.2" stroke="#EE1515" stroke-width="1.9" fill="none"/>
<path d="M1015 635.9L1002 630.6999999999999L1005.64 635.9L1002 641.1Z" fill="#EE1515"/>
<rect x="1416.9" y="201.3" width="623.0999999999999" height="292.4" fill="none" stroke="#5B8DD9" stroke-width="4.2" stroke-dasharray="13.2 7.5"/>
<text x="1432" y="235.8" font-family='"DejaVu Sans", "Liberation Sans", sans-serif' font-size="26" fill="#5B8DD9">4 K</text>
<rect x="1481" y="343" width="86.2" height="86" fill="#D9D9D9"/>
<path d="M1481 343H1567.2M1481 429.2H1567.2" stroke="#000" stroke-width="6" fill="none"/>
<path d="M1481 378H1567M1481 394.9H1567" stroke="#000" stroke-width="4.3" stroke-dasharray="14 6.6" fill="none"/>
<circle cx="1567.2" cy="378" r="4.6" fill="#000"/>
<circle cx="1567.2" cy="394.9" r="4.6" fill="#000"/>
<circle cx="1524.6" cy="339.5" r="4.6" fill="#000"/>
<circle cx="1524.6" cy="433" r="4.6" fill="#000"/>
<path d="M1524.6 339.5V306.4H1452.8V573.6 M1452.8 582.1V684.6 M1452.8 665.6H1969.0 M1524.6 433V525.3 M1524.6 568V607 M1524.6 615.2V665.6 M1567.2 378L1584 386.3L1567.2 394.9 M1584 386.3H1736 M1649 171V254 M1649 300V446.1 M1649 453.8V525.3 M1649 568V665.6 M1775.9 171V240 M1775.9 284V371.4H1748V400.7H1775.9V665.6 M1736.4 370.8V401.7 M1775.9 353.7H1836.5 M1836.5 342.1V365.7 M1844.2 342.1V365.7 M1844.2 353.7H1927.8 M1928 338.5V369.4 M1905 171V240.5 M1905 285V353.7 M1967.4 171V223.6 M1967.4 267.6V339.6H1938.7V368H1967.4V665.6 M1967.4 321.6H2085.2 M2085.2 312V350.6L2119.3 331.3Z M2085.2 341.3H2068.5V358.5 M2059.6 358.5H2077.4L2068.5 373.2Z M1435.3 573.6H1470.1 M1443.8 582.1H1462.2 M1507 607H1541.5 M1514.6 615.2H1533.5 M1637.3 446.1H1661 M1637.3 453.8H1661 M1443.6 684.6H1462.2L1452.9 698.6Z" fill="none" stroke="#000" stroke-width="3.2" stroke-linejoin="miter"/>
<path d="M1649.0 254.0L1659.0 259.3L1639.0 267.0L1659.0 275.5L1639.0 282.5L1659.0 289.4L1639.0 297.1L1649.0 300.3 M1775.9 240.0L1785.9 245.1L1765.9 252.3L1785.9 260.5L1765.9 267.1L1785.9 273.7L1765.9 280.9L1775.9 284.0 M1905.0 240.5L1915.0 245.6L1895.0 253.0L1915.0 261.2L1895.0 267.9L1915.0 274.5L1895.0 281.9L1905.0 285.0 M1967.4 223.6L1977.4 228.7L1957.4 235.9L1977.4 244.1L1957.4 250.7L1977.4 257.3L1957.4 264.5L1967.4 267.6" fill="none" stroke="#000" stroke-width="3.2" stroke-linejoin="round" stroke-linecap="round"/>
<circle cx="1524.3999999999999" cy="546.6" r="21.2" fill="#fff" stroke="#000" stroke-width="3.2"/>
<path d="M1513.2 546.4L1513.8 547.6L1514.3 548.8L1514.9 550.0L1515.4 551.0L1516.0 552.0L1516.6 552.8L1517.1 553.4L1517.7 553.9L1518.2 554.2L1518.8 554.3L1519.4 554.2L1519.9 553.9L1520.5 553.4L1521.0 552.8L1521.6 552.0L1522.2 551.0L1522.7 550.0L1523.3 548.8L1523.8 547.6L1524.4 546.4L1525.0 545.2L1525.5 544.0L1526.1 542.8L1526.6 541.8L1527.2 540.8L1527.8 540.0L1528.3 539.4L1528.9 538.9L1529.4 538.6L1530.0 538.5L1530.6 538.6L1531.1 538.9L1531.7 539.4L1532.2 540.0L1532.8 540.8L1533.4 541.8L1533.9 542.8L1534.5 544.0L1535.0 545.2L1535.6 546.4" fill="none" stroke="#000" stroke-width="3.2" stroke-linecap="round" stroke-linejoin="round"/>
<circle cx="1649" cy="546.6" r="21.2" fill="#fff" stroke="#000" stroke-width="3.2"/>
<path d="M1637.8 546.4L1638.4 547.6L1638.9 548.8L1639.5 550.0L1640.0 551.0L1640.6 552.0L1641.2 552.8L1641.7 553.4L1642.3 553.9L1642.8 554.2L1643.4 554.3L1644.0 554.2L1644.5 553.9L1645.1 553.4L1645.6 552.8L1646.2 552.0L1646.8 551.0L1647.3 550.0L1647.9 548.8L1648.4 547.6L1649.0 546.4L1649.6 545.2L1650.1 544.0L1650.7 542.8L1651.2 541.8L1651.8 540.8L1652.4 540.0L1652.9 539.4L1653.5 538.9L1654.0 538.6L1654.6 538.5L1655.2 538.6L1655.7 538.9L1656.3 539.4L1656.8 540.0L1657.4 540.8L1658.0 541.8L1658.5 542.8L1659.1 544.0L1659.6 545.2L1660.2 546.4" fill="none" stroke="#000" stroke-width="3.2" stroke-linecap="round" stroke-linejoin="round"/>
<circle cx="1649" cy="171" r="4.6" fill="#000"/>
<circle cx="1775.9" cy="171" r="4.6" fill="#000"/>
<circle cx="1905" cy="171" r="4.6" fill="#000"/>
<circle cx="1967.4" cy="171" r="4.6" fill="#000"/>
<circle cx="1649" cy="386.3" r="4.6" fill="#000"/>
<circle cx="2040.2" cy="321.7" r="4.6" fill="#000"/>
<text x="1626" y="149.3" font-family='"DejaVu Serif", "Liberation Serif", serif' font-size="26.5" fill="#000">V<tspan font-size="19" dy="5" dx="0">g1</tspan></text>
<text x="1747.5" y="153" font-family='"DejaVu Serif", "Liberation Serif", serif' font-size="26.5" fill="#000">V<tspan font-size="19" dy="5" dx="0">dd1</tspan></text>
<text x="1882.8" y="149" font-family='"DejaVu Serif", "Liberation Serif", serif' font-size="26.5" fill="#000">V<tspan font-size="19" dy="5" dx="0">g2</tspan></text>
<text x="1938.8" y="153" font-family='"DejaVu Serif", "Liberation Serif", serif' font-size="26.5" fill="#000">V<tspan font-size="19" dy="5" dx="0">dd2</tspan></text>
<text x="2049.5" y="298.8" font-family='"DejaVu Serif", "Liberation Serif", serif' font-size="26.5" fill="#000">δV<tspan font-size="16.5" dy="4.5" dx="0">out</tspan></text>
<text x="1665" y="460" font-family='"DejaVu Serif", "Liberation Serif", serif' font-size="27" fill="#000">C<tspan font-size="19" dy="5" dx="0">ref</tspan></text>
<text x="1676" y="552.4" font-family='"DejaVu Serif", "Liberation Serif", serif' font-size="27" fill="#000">δV<tspan font-size="19" dy="5" dx="0">ref</tspan></text>
<text x="1550.3" y="552.4" font-family='"DejaVu Serif", "Liberation Serif", serif' font-size="27" fill="#000">δV<tspan font-size="16.5" dy="6" dx="1.5" font-family='"Liberation Serif", "DejaVu Serif", serif'>BG</tspan></text>
<text x="1399" y="605.3" font-family='"Liberation Serif", "DejaVu Serif", serif' font-size="34" fill="#000">V<tspan font-size="15.5" dy="5.5" dx="0">TG</tspan></text>
<text x="1545" y="631" font-family='"Liberation Serif", "DejaVu Serif", serif' font-size="34" fill="#000">V<tspan font-size="17" dy="6" dx="0">BG</tspan></text>
<text x="1657.5" y="376.5" font-family='"DejaVu Serif", "Liberation Serif", serif' font-size="27" fill="#000">(B)</text>
<text x="1793.3" y="394.6" font-family='"DejaVu Serif", "Liberation Serif", serif' font-size="26.5" fill="#000" letter-spacing="0.2">100 pF</text>
<text transform="translate(1629.3 328) rotate(-90)" font-family='"DejaVu Serif", "Liberation Serif", serif' font-size="26.5" letter-spacing="0.6" fill="#000">100 MΩ</text>
<text transform="translate(1758.2 310.2) rotate(-90)" font-family='"DejaVu Serif", "Liberation Serif", serif' font-size="26.5" letter-spacing="0.6" fill="#000">100 kΩ</text>
<text transform="translate(1887.6 326.5) rotate(-90)" font-family='"DejaVu Serif", "Liberation Serif", serif' font-size="26.5" letter-spacing="0.6" fill="#000">100 MΩ</text>
<text transform="translate(2003.6 275.3) rotate(-90)" font-family='"DejaVu Serif", "Liberation Serif", serif' font-size="26.5" letter-spacing="0.6" fill="#000">1 kΩ</text>
</svg>
</body></html>
